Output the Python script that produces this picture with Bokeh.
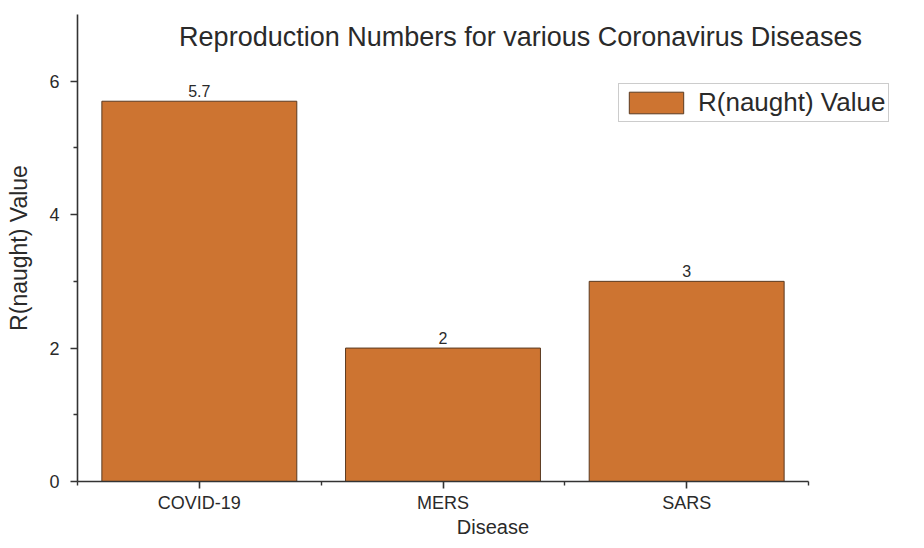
from bokeh.plotting import figure
from bokeh.models import ColumnDataSource, FixedTicker, Range1d, Legend, LegendItem, Label
from bokeh.embed import file_html
from bokeh.resources import INLINE
from bokeh.core.properties import value

categories = ["COVID-19", "MERS", "SARS"]
r_values = [5.7, 2, 3]
value_labels = ["5.7", "2", "3"]
y_ticks = [0, 2, 4, 6]
y_minor = [1, 3, 5]

positions = list(range(1, len(categories) + 1))
src = ColumnDataSource(dict(x=positions, top=r_values, lab=value_labels, cat=categories))

FONT = "Liberation Sans"
BAR = "#CD7431"
INK = "#2a2a2a"

W, H = 908, 540
LEFT, TOP, BOTTOM = 77, 14, 59
AXIS_RIGHT_PX = 808  # where the category axis ends
n = len(categories)
px_per_unit = (AXIS_RIGHT_PX - LEFT) / n
x_end = 0.5 + (W - LEFT) / px_per_unit

p = figure(width=W, height=H, output_backend="svg", toolbar_location=None,
           x_range=Range1d(0.5, x_end), y_range=Range1d(0, 7),
           min_border_left=LEFT, min_border_right=0, min_border_top=TOP, min_border_bottom=BOTTOM)
p.outline_line_color = None
p.xgrid.visible = False
p.ygrid.visible = False
p.background_fill_color = "white"

bars = p.vbar(x="x", top="top", width=0.8, source=src, fill_color=BAR,
              line_color="#5a3a20", line_width=1)

p.text(x="x", y="top", text="lab", source=src, text_align="center", text_baseline="bottom",
       y_offset=-4, text_font=value(FONT), text_font_size="16px", text_color=INK)

# axes
for ax in (p.xaxis[0], p.yaxis[0]):
    ax.axis_line_color = "#333333"
    ax.axis_line_width = 1.6
    ax.major_tick_line_color = "#333333"
    ax.major_tick_line_width = 1.6
    ax.minor_tick_line_color = "#333333"
    ax.minor_tick_line_width = 1.4
    ax.major_tick_in = 0
    ax.major_tick_out = 7
    ax.minor_tick_in = 0
    ax.minor_tick_out = 4
    ax.major_label_text_font = FONT
    ax.major_label_text_font_size = "18px"
    ax.major_label_text_color = INK
    ax.axis_label_text_font = FONT
    ax.axis_label_text_font_style = "normal"
    ax.axis_label_text_color = INK

p.xaxis.bounds = (0.5, n + 0.5)
p.xaxis.ticker = FixedTicker(ticks=positions, minor_ticks=[i + 0.5 for i in range(n + 1)])
p.xaxis.major_label_overrides = {pos: c for pos, c in zip(positions, categories)}
p.xaxis.axis_label = "Disease"
p.xaxis.axis_label_text_font_size = "20px"
p.xaxis.major_label_standoff = 4
p.xaxis.axis_label_standoff = 0

p.yaxis.ticker = FixedTicker(ticks=y_ticks, minor_ticks=y_minor)
p.yaxis.axis_label = "R(naught) Value"
p.yaxis.axis_label_text_font_size = "23px"
p.yaxis.major_label_standoff = 11
p.yaxis.axis_label_standoff = 14

title = Label(x=0.5 + (520 - LEFT) / px_per_unit, y=6.66,
              text="Reproduction Numbers for various Coronavirus Diseases",
              text_align="center", text_baseline="middle", text_font=FONT,
              text_font_size="27px", text_color=INK)
p.add_layout(title)

legend = Legend(items=[LegendItem(label="R(naught) Value", renderers=[bars])],
                location=(541, 359), glyph_width=68, glyph_height=27,
                label_text_font=FONT, label_text_font_size="26px", label_text_color=INK,
                border_line_color="#9a9a9a", border_line_width=1, padding=3, margin=0,
                label_standoff=8, background_fill_alpha=1)
p.add_layout(legend, "center")

open("out.html", "w").write(file_html(p, INLINE))
